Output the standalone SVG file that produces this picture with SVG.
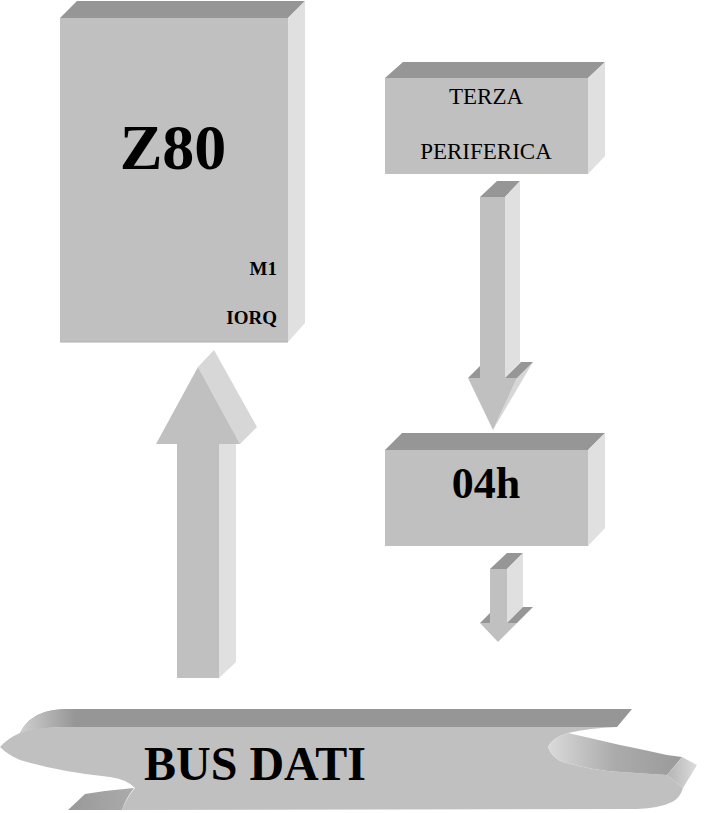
<svg xmlns="http://www.w3.org/2000/svg" width="705" height="813" viewBox="0 0 705 813">
<defs>
<style>
.front{fill:#C0C0C0}
.top{fill:#969696}
.side{fill:#E0E0E0}
.headside{fill:#D7D7D7}
.lbl{font-family:"Liberation Serif","Times New Roman",serif;fill:#000}
.b{font-weight:bold}
</style>
<linearGradient id="curl" gradientUnits="userSpaceOnUse" x1="548" y1="0" x2="682" y2="0">
<stop offset="0" stop-color="#DADADA"/><stop offset="0.5" stop-color="#ABABAB"/><stop offset="1" stop-color="#9A9A9A"/>
</linearGradient>
<linearGradient id="cap" gradientUnits="userSpaceOnUse" x1="667" y1="0" x2="697" y2="0">
<stop offset="0" stop-color="#B4B4B4"/><stop offset="1" stop-color="#DCDCDC"/>
</linearGradient>
<linearGradient id="lcurl" gradientUnits="userSpaceOnUse" x1="20" y1="0" x2="75" y2="0">
<stop offset="0" stop-color="#CFCFCF"/><stop offset="1" stop-color="#969696"/>
</linearGradient>
<linearGradient id="fold" gradientUnits="userSpaceOnUse" x1="68" y1="0" x2="135" y2="0">
<stop offset="0" stop-color="#999999"/><stop offset="1" stop-color="#ABABAB"/>
</linearGradient>
</defs>
<rect width="705" height="813" fill="#FFFFFF"/>

<g id="z80">
<polygon class="top" points="60,18 77,1 305,1 288,18"/>
<polygon class="side" points="288,18 305,1 305,323 288,342"/>
<rect class="front" x="60" y="18" width="228" height="324"/>
<line x1="60" y1="342" x2="288" y2="342" stroke="#B0B0B0" stroke-width="1"/>
<text class="lbl b" x="173" y="169" font-size="64" text-anchor="middle">Z80</text>
<text class="lbl b" x="277" y="275" font-size="19" text-anchor="end">M1</text>
<text class="lbl b" x="277" y="324" font-size="19" text-anchor="end">IORQ</text>
</g>

<g id="terza">
<polygon class="top" points="385,78 403,62 605,62 588,78"/>
<polygon class="side" points="588,78 605,62 605,156 588,174"/>
<rect class="front" x="385" y="78" width="203" height="96"/>
<text class="lbl" x="486" y="104" font-size="23" text-anchor="middle">TERZA</text>
<text class="lbl" x="486" y="159" font-size="23" text-anchor="middle">PERIFERICA</text>
</g>

<g id="box04h">
<polygon class="top" points="385,450 402,433 605,433 588,450"/>
<polygon class="side" points="588,450 605,433 605,528 588,546"/>
<rect class="front" x="385" y="450" width="203" height="96"/>
<text class="lbl b" x="486" y="498" font-size="44" text-anchor="middle">04h</text>
</g>

<g id="bus">
<path class="top" d="M20,733 Q28,717 45,712 Q55,709 70,709 L632,709 L617,727 L60,727 Q35,728 20,733 Z"/>
<path fill="url(#lcurl)" d="M20,733 Q28,717 45,712 Q55,709 70,709 L75,709 L75,727 L60,727 Q35,728 20,733 Z"/>
<path fill="url(#fold)" d="M68,810 L85,794 Q110,790 134,788 Q126,798 122,810 Z"/>
<path class="front" d="M60,727 L617,727 Q590,728 568,733 Q552,738 548,747 Q552,758 563,762 Q590,770 620,772 L667,775 L683,788 Q680,798 672,802 Q660,808 637,809 L122,810 Q127,797 135,788 Q126,779 110,777 Q60,772 20,760 Q8,755 0,747 Q8,738 20,733 Q38,727 60,727 Z"/>
<path fill="url(#curl)" d="M568,733 Q552,738 548,747 Q552,758 563,762 Q590,770 620,772 L667,775 L682,757 L667,755 Q640,749 620,745 Q590,738 568,733 Z"/>
<polygon fill="url(#cap)" points="667,775 682,757 697,765 683,788"/>
<text class="lbl b" x="144" y="780" font-size="48">BUS DATI</text>
</g>

<g id="connectors">
<g id="arrow-terza-04h">
<polygon class="top" points="480,197 497,181 520,181 505,197"/>
<polygon class="side" points="505,197 520,181 520,362 505,378"/>
<rect class="front" x="480" y="197" width="25" height="181"/>
<polygon class="headside" points="517,378 533,362 493,430"/>
<polygon class="top" points="505,378 517,378 533,362 521,362"/>
<polygon class="top" points="468,378 480,366 480,378"/>
<polygon class="front" points="468,378 517,378 493,430"/>
</g>
<g id="arrow-04h-out">
<polygon class="top" points="490,569 507,553 523,553 507,569"/>
<polygon class="side" points="507,569 523,553 523,607 507,623"/>
<rect class="front" x="490" y="569" width="17" height="54"/>
<polygon class="headside" points="517,623 533,607 498,642"/>
<polygon class="top" points="507,623 517,623 533,607 523,607"/>
<polygon class="top" points="480,623 490,613 490,623"/>
<polygon class="front" points="480,623 517,623 498,642"/>
</g>
<g id="arrow-bus-z80">
<polygon class="side" points="219,444 236,427 236,662 219,678"/>
<rect class="front" x="177" y="444" width="42" height="234"/>
<polygon class="headside" points="198,367 214,350 257,427 240,444"/>
<polygon class="front" points="156,444 240,444 198,367"/>
</g>
</g>
</svg>
